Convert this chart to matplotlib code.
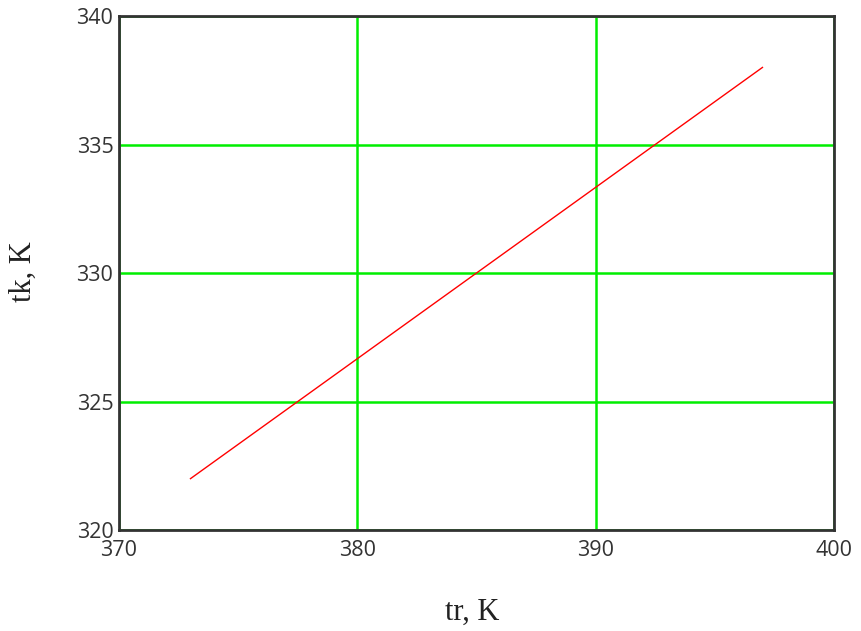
import matplotlib
matplotlib.use("Agg")
import matplotlib.pyplot as plt

# Reactor temperature vs. condenser temperature
tr = [373.0, 377.5, 385.0, 392.5, 397.0]
tk = [322.0, 325.0, 330.0, 335.0, 338.0]

x_ticks = [370, 380, 390, 400]
y_ticks = [320, 325, 330, 335, 340]

fig = plt.figure(figsize=(8.61, 6.31), dpi=100)
ax = fig.add_axes([0.1382, 0.160, 0.8304, 0.8146])

ax.plot(tr, tk, color="#ff0000", linewidth=1.0, zorder=3)

ax.set_xlim(370, 400)
ax.set_ylim(320, 340)
ax.set_xticks(x_ticks)
ax.set_yticks(y_ticks)
ax.grid(True, color="#00ee00", linewidth=1.8, zorder=1)
ax.set_axisbelow(True)

for s in ax.spines.values():
    s.set_color("#333333")
    s.set_linewidth(2.0)

tick_font = dict(family=["Open Sans", "DejaVu Sans"], size=15.5, color="#333333")
ax.tick_params(axis="x", length=0, pad=7)
ax.tick_params(axis="y", length=0, pad=4)
ax.set_xticklabels([str(v) for v in x_ticks], **tick_font)
ax.set_yticklabels([str(v) for v in y_ticks], **tick_font)

label_font = dict(family=["Liberation Serif", "DejaVu Serif"], size=22, color="#222222")
fig.text(0.548, 0.030, "tr, K", ha="center", va="center", **label_font)
fig.text(0.027, 0.569, "tk, K", ha="center", va="center", rotation=90, **label_font)

fig.savefig("out.png", dpi=100)
